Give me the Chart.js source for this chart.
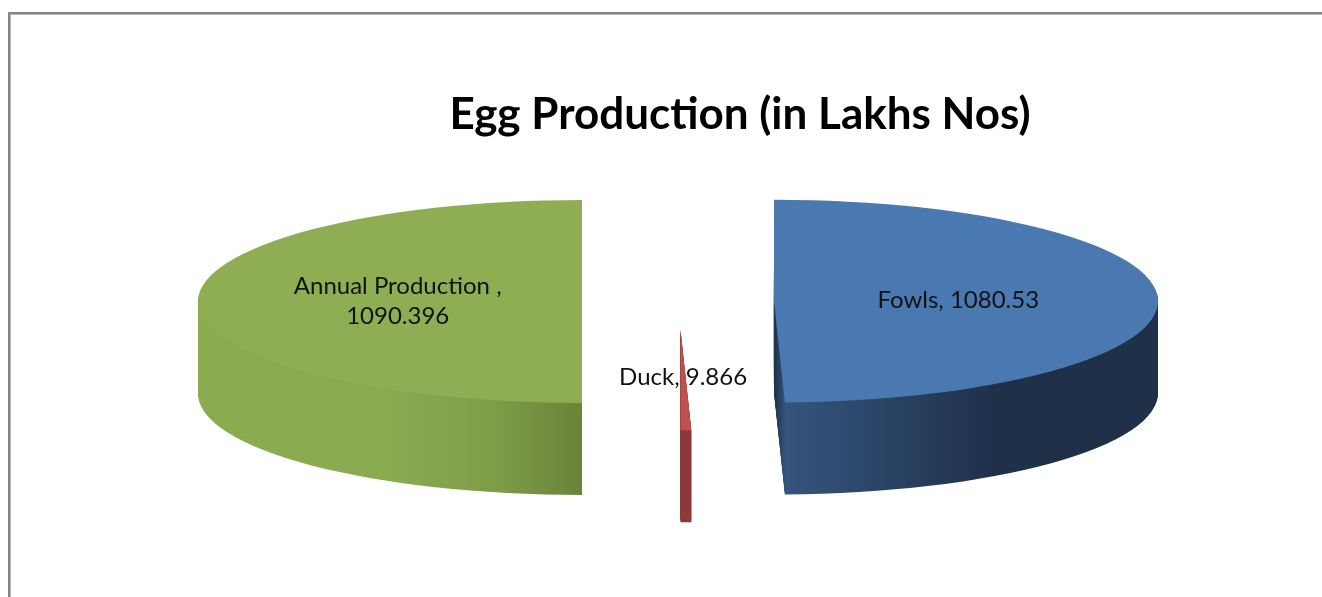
<!DOCTYPE html>
<html>
<head>
<meta charset="utf-8">
<title>Egg Production</title>
<script src="https://cdn.jsdelivr.net/npm/chart.js@4.4.1/dist/chart.umd.min.js"></script>
<style>
  body { margin: 0; background: #fff; overflow: hidden; }
  #frame {
    position: absolute; left: 8px; top: 12px; width: 1400px; height: 700px;
    border-top: 2px solid #858585; border-left: 2px solid #858585;
    box-shadow: inset 1px 1px 0 #b8b8b8;
  }
  #eggChart { position: absolute; left: 0; top: 0; }
</style>
</head>
<body>
<div id="frame"></div>
<canvas id="eggChart" width="1322" height="597"></canvas>
<script>
// data
const labels = ['Fowls', 'Duck', 'Annual Production ']
const values = [1080.53, 9.866, 1090.396]

// look of the 3d pie
const topColors = ['#4a78b0', '#c0504d', '#8fae54']
const explode = [95, 104, 97]
const PIE_X = 679
const PIE_Y = 301.5
const TILT = 0.264
const DEPTH = 92
const LABEL_POS = 0.48

const sideFill = function (ctx, i, cx, r) {
  let g
  if (i === 0) {
    g = ctx.createLinearGradient(cx, 0, cx + r, 0)
    g.addColorStop(0, '#1f3049')
    g.addColorStop(0.03, '#34557e')
    g.addColorStop(0.58, '#1f3049')
    g.addColorStop(1, '#1f3049')
    return g
  }
  if (i === 1) return '#8c3a3a'
  g = ctx.createLinearGradient(cx - r, 0, cx, 0)
  g.addColorStop(0, '#8aab50')
  g.addColorStop(0.5, '#8aab50')
  g.addColorStop(0.78, '#7e9c47')
  g.addColorStop(1, '#6b833a')
  return g
}

// moves the drawing so that slice i sits exploded and flattened
const place = function (ctx, arc, i, drop) {
  const h = (arc.startAngle + arc.endAngle) / 2
  ctx.translate(
    PIE_X + Math.cos(h) * explode[i],
    PIE_Y + Math.sin(h) * explode[i] * TILT + drop
  )
  ctx.scale(1, TILT)
  ctx.translate(-arc.x, -arc.y)
}

const pie3d = {
  id: 'pie3d',
  beforeDatasetsDraw(chart) {
    const ctx = chart.ctx
    const arcs = chart.getDatasetMeta(0).data
    // sides first, layer by layer from the bottom up
    for (let d = DEPTH; d >= 1; d--) {
      arcs.forEach((arc, i) => {
        const saved = arc.options
        ctx.save()
        place(ctx, arc, i, d)
        arc.options = Object.assign({}, saved, {
          backgroundColor: sideFill(ctx, i, arc.x, arc.outerRadius),
        })
        arc.draw(ctx)
        arc.options = saved
        ctx.restore()
      })
    }
    // top faces
    arcs.forEach((arc, i) => {
      ctx.save()
      place(ctx, arc, i, 0)
      arc.draw(ctx)
      ctx.restore()
    })
    return false
  },
  afterDraw(chart) {
    const ctx = chart.ctx
    const arcs = chart.getDatasetMeta(0).data
    ctx.save()
    ctx.font = '24px Lato, "Open Sans", sans-serif'
    ctx.fillStyle = '#111'
    ctx.textAlign = 'center'
    ctx.textBaseline = 'middle'
    arcs.forEach((arc, i) => {
      const h = (arc.startAngle + arc.endAngle) / 2
      const dist = explode[i] + LABEL_POS * arc.outerRadius
      const x = PIE_X + Math.cos(h) * dist
      const y = PIE_Y + Math.sin(h) * dist * TILT
      let text = labels[i] + ', ' + values[i]
      let lines = [text]
      if (ctx.measureText(text).width > 240) {
        lines = [labels[i] + ',', String(values[i])]
      }
      const lh = 30
      lines.forEach((line, k) => {
        ctx.fillText(line, x, y + (k - (lines.length - 1) / 2) * lh)
      })
    })
    ctx.restore()
  },
}

new Chart(document.getElementById('eggChart'), {
  type: 'pie',
  data: {
    labels: labels,
    datasets: [
      {
        data: values,
        backgroundColor: topColors,
        borderWidth: 0,
        clip: false,
      },
    ],
  },
  options: {
    responsive: false,
    animation: false,
    radius: 384,
    layout: { padding: { left: 158, right: 0, top: 0, bottom: 0 } },
    plugins: {
      legend: { display: false },
      tooltip: { enabled: false },
      title: {
        display: true,
        text: 'Egg Production (in Lakhs Nos)',
        color: '#000',
        font: { family: 'Lato, "Open Sans", sans-serif', size: 44, weight: 'bold', lineHeight: 1.2 },
        padding: { top: 88, bottom: 10 },
      },
    },
  },
  plugins: [pie3d],
})
</script>
</body>
</html>
